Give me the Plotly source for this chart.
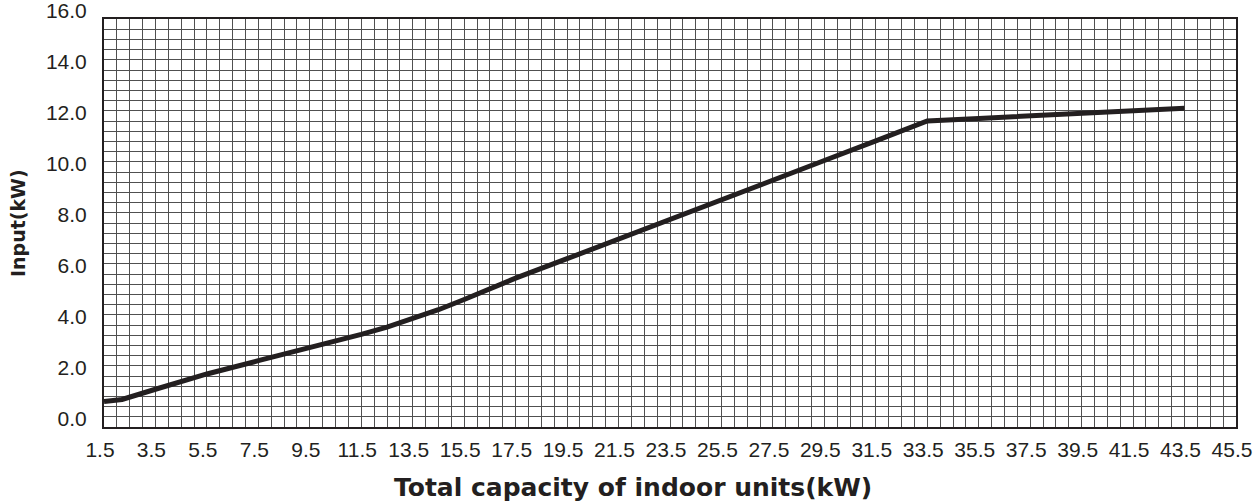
import plotly.graph_objects as go

# Data
capacity_kw = [1.5, 2.2, 3.5, 5.5, 7.5, 9.5, 10.5, 11.5, 12.5, 13.5, 14.5, 15.5, 17.5,
               19.5, 21.5, 23.5, 25.5, 27.5, 29.5, 31.5, 33.5, 35.5, 37.5, 39.5, 41.5, 43.5]
input_kw = [1.0, 1.08, 1.48, 2.08, 2.6, 3.1, 3.36, 3.63, 3.92, 4.24, 4.6, 5.0, 5.84,
            6.6, 7.36, 8.13, 8.9, 9.68, 10.45, 11.22, 12.0, 12.1, 12.2, 12.3, 12.4, 12.5]
x_ticks = [1.5 + 2 * i for i in range(23)]
y_ticks = [0, 2, 4, 6, 8, 10, 12, 14, 16]
x_title = "Total capacity of indoor units(kW)"
y_title = "Input(kW)"

INK = "#231f20"
GRID = "#505050"
FONT = "Liberation Sans, Arial, sans-serif"
TITLE_FONT = "DejaVu Sans, Verdana, sans-serif"

fig = go.Figure()
fig.add_trace(go.Scatter(
    x=capacity_kw, y=input_kw, mode="lines",
    line=dict(color=INK, width=5),
    showlegend=False, hoverinfo="x+y",
))

fig.update_layout(
    width=1259, height=502,
    margin=dict(l=104, r=23, t=19, b=75, autoexpand=False),
    paper_bgcolor="white", plot_bgcolor="white",
    font=dict(family=FONT, size=21, color=INK),
)

fig.update_xaxes(
    range=[1.5, 45.5], tickmode="array", tickvals=x_ticks,
    ticktext=[f"{v:.1f}" for v in x_ticks],
    showgrid=False, zeroline=False, automargin=False,
    showline=True, linecolor=INK, linewidth=2, mirror=True,
    ticks="", ticklabelstandoff=3, ticklabelshift=-4,
    ticklabeloverflow="allow",
    minor=dict(dtick=0.5, tick0=1.5, showgrid=True, gridcolor=GRID, gridwidth=1),
)
fig.update_yaxes(
    range=[0, 16], tickmode="array", tickvals=y_ticks,
    ticktext=[f"{v:.1f}" for v in y_ticks],
    showgrid=False, zeroline=False, automargin=False,
    showline=True, linecolor=INK, linewidth=2, mirror=True,
    ticks="", ticklabelstandoff=11, ticklabelshift=-8,
    ticklabeloverflow="allow",
    minor=dict(dtick=0.4, tick0=0, showgrid=True, gridcolor=GRID, gridwidth=1),
)

fig.add_annotation(
    text=f"<b>{x_title}</b>", xref="paper", yref="paper",
    x=(633 - 104) / 1132, y=-(488 - 427) / 408, xanchor="center", yanchor="middle",
    showarrow=False, font=dict(family=TITLE_FONT, size=25, color=INK),
)
fig.add_annotation(
    text=f"<b>{y_title}</b>", xref="paper", yref="paper",
    x=-(104 - 18) / 1132, y=(427 - 223) / 408, xanchor="center", yanchor="middle",
    textangle=-90, showarrow=False, font=dict(family=TITLE_FONT, size=19, color=INK),
)

fig.write_html("out.html", config={"displayModeBar": False},
               post_script="document.body.style.margin='0';")
